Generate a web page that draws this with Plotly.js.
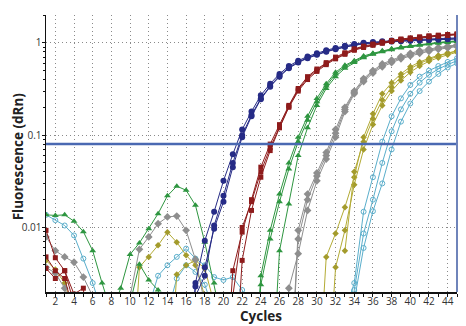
<!DOCTYPE html>
<html>
<head>
<meta charset="utf-8">
<script src="https://cdn.plot.ly/plotly-3.0.1.min.js"></script>
<style>html,body{margin:0;padding:0;background:#fff;}#chart{width:466px;height:326px;}</style>
</head>
<body>
<div id="chart"></div>
<script>
// Cycle numbers (x)
var cycles = [1,2,3,4,5,6,7,8,9,10,11,12,13,14,15,16,17,18,19,20,21,22,23,24,25,26,27,28,29,30,31,32,33,34,35,36,37,38,39,40,41,42,43,44,45];
var threshold = 0.08;
var xTickVals = [2,4,6,8,10,12,14,16,18,20,22,24,26,28,30,32,34,36,38,40,42,44];
var yTickVals = [0.01, 0.1, 1];
var yTickText = ["0.01", "0.1", "1"];
var yMinorVals = [0.003,0.004,0.005,0.006,0.007,0.008,0.009,0.02,0.03,0.04,0.05,0.06,0.07,0.08,0.09,0.2,0.3,0.4,0.5,0.6,0.7,0.8,0.9,2];
var xTitle = 'Cycles';
var yTitle = 'Fluorescence (dRn)';

// dRn values per well (values of 0.0001 lie below the visible range)
var blue1 = [0.0001,0.0001,0.0001,0.0001,0.0001,0.0001,0.0001,0.0001,0.0001,0.0001,0.0001,0.0001,0.0001,0.0001,0.0001,0.0001,0.0025,0.0072,0.0148,0.032,0.062,0.115,0.18,0.27,0.36,0.46,0.56,0.64,0.71,0.77,0.83,0.88,0.93,0.97,1.0,1.02,1.04,1.06,1.07,1.08,1.09,1.1,1.11,1.12,1.13];
var blue2 = [0.0001,0.0001,0.0001,0.0001,0.0001,0.0001,0.0001,0.0001,0.0001,0.0001,0.0001,0.0001,0.0001,0.0001,0.0001,0.0001,0.0018,0.003,0.0105,0.022,0.05,0.1,0.165,0.25,0.34,0.44,0.54,0.62,0.69,0.75,0.81,0.86,0.91,0.95,0.98,1.0,1.02,1.04,1.05,1.06,1.07,1.08,1.09,1.1,1.11];
var blue3 = [0.0001,0.0001,0.0001,0.0001,0.0001,0.0001,0.0001,0.0001,0.0001,0.0001,0.0001,0.0001,0.0001,0.0001,0.0001,0.0001,0.0023,0.0037,0.0097,0.019,0.045,0.095,0.16,0.245,0.335,0.43,0.53,0.61,0.68,0.74,0.8,0.85,0.9,0.94,0.97,0.99,1.01,1.03,1.04,1.05,1.06,1.07,1.08,1.09,1.1];

var red1 = [0.0093,0.0047,0.0034,0.0019,0.0022,0.0001,0.0001,0.0001,0.0001,0.0001,0.0001,0.0001,0.0001,0.0001,0.0001,0.0001,0.0001,0.0001,0.0001,0.0001,0.0034,0.0089,0.02,0.045,0.08,0.13,0.21,0.32,0.43,0.52,0.61,0.7,0.78,0.86,0.92,0.97,1.02,1.06,1.1,1.13,1.16,1.19,1.21,1.23,1.25];
var red2 = [0.0048,0.0034,0.0028,0.0012,0.0001,0.0001,0.0001,0.0001,0.0001,0.0001,0.0001,0.0001,0.0001,0.0001,0.0001,0.0001,0.0001,0.0001,0.0001,0.0001,0.0001,0.0044,0.0153,0.035,0.068,0.12,0.2,0.3,0.4,0.49,0.58,0.67,0.75,0.83,0.89,0.94,0.99,1.03,1.07,1.1,1.13,1.16,1.18,1.2,1.22];
var red3 = [0.0036,0.0028,0.0034,0.0015,0.0001,0.0001,0.0001,0.0001,0.0001,0.0001,0.0001,0.0001,0.0001,0.0001,0.0001,0.0001,0.0001,0.0001,0.0001,0.0001,0.0018,0.01,0.019,0.04,0.073,0.125,0.205,0.31,0.415,0.505,0.595,0.685,0.765,0.845,0.905,0.955,1.0,1.045,1.085,1.115,1.145,1.175,1.195,1.215,1.235];

var green1 = [0.0137,0.0135,0.0137,0.0117,0.009,0.0056,0.0025,0.0012,0.0022,0.0051,0.0068,0.0097,0.0141,0.022,0.028,0.0253,0.0174,0.0069,0.0025,0.0008,0.0001,0.0001,0.0001,0.003,0.0093,0.023,0.05,0.095,0.16,0.25,0.36,0.48,0.57,0.64,0.72,0.77,0.82,0.86,0.9,0.93,0.96,0.99,1.01,1.03,1.05];
var green2 = [0.0001,0.0001,0.0001,0.0001,0.0001,0.0001,0.0001,0.0001,0.0001,0.0015,0.004,0.0027,0.0021,0.0008,0.0001,0.0001,0.0001,0.0001,0.0001,0.0001,0.0001,0.0001,0.0001,0.0001,0.0001,0.0056,0.018,0.06,0.12,0.21,0.32,0.43,0.53,0.61,0.69,0.75,0.8,0.84,0.88,0.91,0.94,0.97,0.99,1.01,1.03];
var green3 = [0.0001,0.0001,0.0001,0.0001,0.0001,0.0001,0.0001,0.0001,0.0001,0.0001,0.0001,0.0001,0.0001,0.0001,0.0001,0.0001,0.0001,0.0001,0.0001,0.0001,0.0001,0.0001,0.0001,0.0024,0.0075,0.019,0.043,0.085,0.145,0.23,0.34,0.46,0.55,0.63,0.7,0.76,0.81,0.85,0.89,0.92,0.95,0.98,1.0,1.02,1.04];

var grey1 = [0.0079,0.0056,0.0048,0.0042,0.0029,0.0018,0.0001,0.0001,0.0001,0.0001,0.0001,0.0001,0.0001,0.0001,0.0001,0.0001,0.0001,0.0001,0.0001,0.0001,0.0001,0.0001,0.0001,0.0001,0.0001,0.0001,0.0001,0.0093,0.023,0.039,0.065,0.115,0.2,0.3,0.41,0.5,0.59,0.65,0.71,0.77,0.82,0.86,0.89,0.92,0.95];
var grey2 = [0.0037,0.0032,0.0022,0.0012,0.0001,0.0001,0.0001,0.0001,0.0001,0.0018,0.0058,0.0079,0.011,0.013,0.0133,0.0093,0.0045,0.0015,0.0001,0.0001,0.0001,0.0001,0.0001,0.0001,0.0001,0.0001,0.0022,0.0052,0.0153,0.032,0.055,0.095,0.18,0.28,0.38,0.47,0.55,0.61,0.67,0.72,0.77,0.81,0.85,0.88,0.91];
var grey3 = [0.0001,0.0001,0.0001,0.0001,0.0001,0.0001,0.0001,0.0001,0.0001,0.0001,0.0001,0.0001,0.0001,0.0001,0.0001,0.0001,0.0001,0.0001,0.0001,0.0001,0.0001,0.0001,0.0001,0.0001,0.0001,0.0001,0.0001,0.0075,0.02,0.036,0.06,0.105,0.19,0.29,0.395,0.485,0.57,0.63,0.69,0.745,0.795,0.835,0.87,0.9,0.93];

var olive1 = [0.0044,0.0035,0.0025,0.0012,0.0001,0.0001,0.0001,0.0001,0.0001,0.0001,0.0037,0.0048,0.0064,0.0089,0.0069,0.005,0.0039,0.0018,0.0001,0.0001,0.0001,0.0001,0.0001,0.0001,0.0001,0.0001,0.0001,0.0001,0.0001,0.0001,0.0048,0.0086,0.0166,0.035,0.095,0.17,0.28,0.37,0.46,0.55,0.62,0.68,0.73,0.78,0.82];
var olive2 = [0.0001,0.0001,0.0001,0.0001,0.0001,0.0001,0.0001,0.0001,0.0001,0.0001,0.0001,0.0001,0.0001,0.0001,0.0031,0.0039,0.0044,0.0036,0.0015,0.0001,0.0001,0.0001,0.0001,0.0001,0.0001,0.0001,0.0001,0.0001,0.0001,0.0001,0.0001,0.0037,0.0093,0.029,0.07,0.13,0.21,0.3,0.39,0.48,0.56,0.63,0.69,0.74,0.79];
var olive3 = [null,null,null,null,null,null,null,null,null,null,null,null,null,null,null,null,null,null,null,null,null,null,null,null,null,null,null,null,null,null,null,null,0.0056,0.04,0.085,0.15,0.24,0.33,0.43,0.52,0.6,0.66,0.72,0.77,0.81];

var cyan1 = [0.0137,0.012,0.0105,0.0082,0.0046,0.0025,0.0012,0.0001,0.0001,0.0001,0.0001,0.0001,0.0001,0.0001,0.0001,0.0001,0.0001,0.0001,0.0001,0.0001,0.0001,0.0001,0.0001,0.0001,0.0001,0.0001,0.0001,0.0001,0.0001,0.0001,0.0001,0.0001,0.0012,0.0025,0.0148,0.035,0.085,0.16,0.25,0.35,0.43,0.5,0.56,0.62,0.68];
var cyan2 = [0.0001,0.0001,0.0001,0.0001,0.0001,0.0001,0.0001,0.0001,0.0001,0.0001,0.0001,0.0014,0.003,0.0039,0.0048,0.0059,0.0046,0.0039,0.0029,0.0027,0.0029,0.0021,0.0012,0.0001,0.0001,0.0001,0.0001,0.0001,0.0001,0.0001,0.0001,0.0001,0.0001,0.0021,0.0086,0.02,0.05,0.11,0.19,0.28,0.37,0.45,0.52,0.58,0.64];
var cyan3 = [0.0001,0.0001,0.0001,0.0001,0.0001,0.0001,0.0001,0.0001,0.0001,0.0001,0.0001,0.0001,0.0001,0.0012,0.0028,0.0039,0.0033,0.0024,0.0012,0.0001,0.0001,0.0001,0.0001,0.0001,0.0001,0.0001,0.0001,0.0001,0.0001,0.0001,0.0001,0.0001,0.0001,0.0016,0.006,0.015,0.03,0.07,0.14,0.22,0.3,0.38,0.46,0.54,0.6];

function well(y, color, symbol, size, lineColor) {
  return {
    x: cycles, y: y, type: 'scatter', mode: 'lines+markers',
    line: {color: lineColor || color, width: 1},
    marker: {color: color, symbol: symbol, size: size, line: {width: symbol.indexOf('open') >= 0 ? 1 : 0, color: color}},
    hoverinfo: 'skip', showlegend: false, cliponaxis: true
  };
}

var cCyan = '#5aaecb', cOlive = '#b3ab35', cGrey = '#8e8e8e', cGreen = '#2e9640', cBlue = '#262b86', cRed = '#8e1b1b';

var traces = [
  well(cyan1, cCyan, 'circle-open', 5), well(cyan2, cCyan, 'circle-open', 5), well(cyan3, cCyan, 'circle-open', 5),
  well(olive1, '#a39b2c', 'diamond', 5, cOlive), well(olive2, '#a39b2c', 'diamond', 5, cOlive), well(olive3, '#a39b2c', 'diamond', 5, cOlive),
  well(grey1, cGrey, 'diamond', 6), well(grey2, cGrey, 'diamond', 6), well(grey3, cGrey, 'diamond', 6),
  well(green1, cGreen, 'triangle-up', 6), well(green2, cGreen, 'triangle-up', 6), well(green3, cGreen, 'triangle-up', 6),
  well(blue1, cBlue, 'circle', 6), well(blue2, cBlue, 'circle', 6), well(blue3, cBlue, 'circle', 6),
  well(red1, cRed, 'square', 5), well(red2, cRed, 'square', 5), well(red3, cRed, 'square', 5),
  {x: [cycles[0], cycles[cycles.length - 1]], y: [threshold, threshold], type: 'scatter', mode: 'lines',
   line: {color: '#4a69b2', width: 2.5}, hoverinfo: 'skip', showlegend: false}
];

var gridDash = '1px,3px';
var layout = {
  width: 466, height: 326,
  margin: {l: 46, r: 9, t: 15, b: 34},
  paper_bgcolor: '#fff', plot_bgcolor: '#fff',
  font: {family: 'Open Sans, sans-serif', size: 10, color: '#333'},
  showlegend: false,
  xaxis: {
    range: [1, 45], tickmode: 'array', tickvals: xTickVals,
    showline: true, linecolor: '#111', linewidth: 1.5,
    ticks: 'outside', ticklen: 3, tickcolor: '#111', tickwidth: 1,
    ticklabelstandoff: -4,
    minor: {dtick: 1, tick0: 0, ticks: 'outside', ticklen: 3, tickcolor: '#111', showgrid: false},
    showgrid: true, gridcolor: '#8a8a8a', griddash: gridDash, gridwidth: 1,
    zeroline: false, tickfont: {size: 10, color: '#333'}
  },
  yaxis: {
    type: 'log', range: [Math.log10(0.002), Math.log10(2)],
    tickmode: 'array', tickvals: yTickVals, ticktext: yTickText,
    showline: true, linecolor: '#111', linewidth: 1.5,
    ticks: 'outside', ticklen: 3, tickcolor: '#111',
    ticklabelstandoff: -2,
    minor: {tickmode: 'array', tickvals: yMinorVals, ticks: 'outside', ticklen: 2, tickcolor: '#111', showgrid: false},
    showgrid: true, gridcolor: '#8a8a8a', griddash: gridDash, gridwidth: 1,
    zeroline: false, tickfont: {size: 10, color: '#333'}
  },
  annotations: [
    {text: xTitle, xref: 'paper', yref: 'paper', x: 0.523, y: -0.085, xanchor: 'center', yanchor: 'middle',
     showarrow: false, font: {size: 13.5, color: '#222', weight: 'bold'}},
    {text: yTitle, xref: 'paper', yref: 'paper', x: -0.068, y: 0.49, xanchor: 'center', yanchor: 'middle',
     textangle: -90, showarrow: false, font: {size: 13.5, color: '#222', weight: 'bold'}}
  ],
  shapes: [
    {type: 'line', xref: 'paper', yref: 'paper', x0: 1, x1: 1, y0: 0, y1: 1, line: {color: '#6f84ba', width: 2}}
  ]
};

Plotly.newPlot('chart', traces, layout, {displayModeBar: false, staticPlot: true});
</script>
</body>
</html>
